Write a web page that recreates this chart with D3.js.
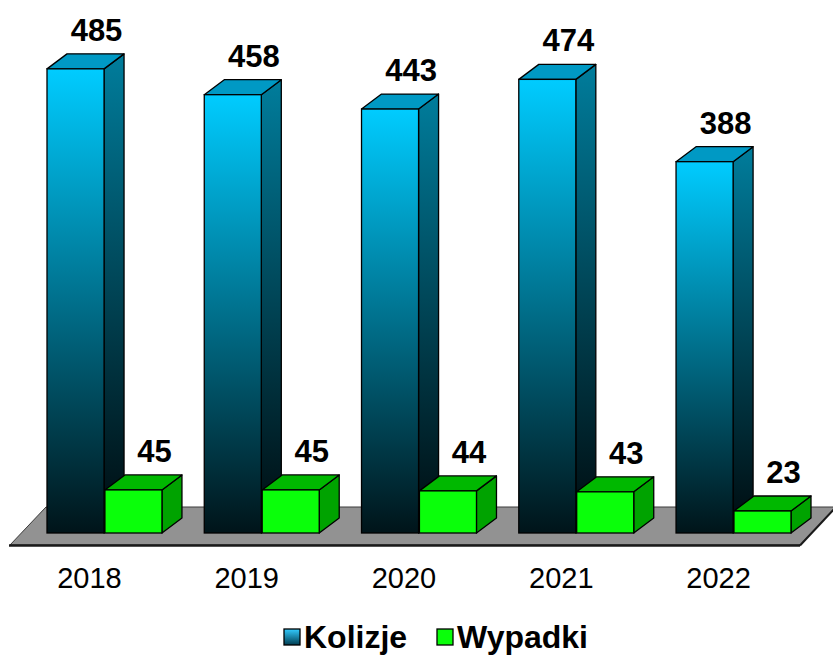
<!DOCTYPE html>
<html>
<head>
<meta charset="utf-8">
<script src="https://cdn.jsdelivr.net/npm/d3@7"></script>
<style>
  body { margin: 0; background: #fff; }
  svg { display: block; font-family: Arial, "Liberation Sans", sans-serif; }
</style>
</head>
<body>
<svg class="s"></svg>
<script>
var years = ['2018', '2019', '2020', '2021', '2022'];
var series = ['Kolizje', 'Wypadki'];
var kolizje = [485, 458, 443, 474, 388];
var wypadki = [45, 45, 44, 43, 23];

var w = 833;
var h = 656;
var depthX = 20, depthY = 15;

var svg = d3.select('.s')
            .attr('width', w)
            .attr('height', h);

var defs = svg.append('defs');

function grad(id, top, bottom) {
  var g = defs.append('linearGradient')
              .attr('id', id)
              .attr('x1', 0).attr('y1', 0)
              .attr('x2', 0).attr('y2', 1);
  g.append('stop').attr('offset', '0%').attr('stop-color', top);
  g.append('stop').attr('offset', '100%').attr('stop-color', bottom);
}
grad('blueFront', '#00ccff', '#001419');
grad('blueSide', '#007d9c', '#000a0d');
grad('legendBlue', '#33ccff', '#003c50');

var x0 = d3.scaleBand()
           .domain(years)
           .range([47, 791])
           .paddingInner(0.269);

var x1 = d3.scaleBand()
           .domain(series)
           .range([0, x0.bandwidth()])
           .paddingInner(0.015);

var y = d3.scaleLinear()
          .domain([0, 500])
          .range([533, 54.5]);

// floor
var floorFront = 545, floorBack = 507;
svg.append('polygon')
   .attr('points', [[10, floorFront], [800, floorFront], [836, floorBack], [46, floorBack]].join(' '))
   .attr('fill', '#929292')
   .attr('stroke', '#3a3a3a')
   .attr('stroke-width', 1);
svg.append('line')
   .attr('x1', 9).attr('y1', floorFront + 0.5)
   .attr('x2', 800).attr('y2', floorFront + 0.5)
   .attr('stroke', '#1a1a1a').attr('stroke-width', 2.5);
svg.append('line')
   .attr('x1', 800).attr('y1', floorFront + 0.5)
   .attr('x2', 836).attr('y2', floorBack)
   .attr('stroke', '#1a1a1a').attr('stroke-width', 2);

var styles = {
  Kolizje: { front: 'url(#blueFront)', side: 'url(#blueSide)', top: '#0099c4' },
  Wypadki: { front: '#0aff0a', side: '#00a300', top: '#00b800' }
};

var data = [];
years.forEach(function(yr, i) {
  data.push({ year: yr, key: 'Kolizje', value: kolizje[i] });
  data.push({ year: yr, key: 'Wypadki', value: wypadki[i] });
});

var bars = svg.append('g')
              .selectAll('g')
              .data(data)
              .enter()
              .append('g');

bars.each(function(d) {
  var g = d3.select(this);
  var xl = x0(d.year) + x1(d.key);
  var xr = xl + x1.bandwidth();
  var yt = y(d.value);
  var yb = y(0);
  var st = styles[d.key];

  g.append('polygon')
   .attr('points', [[xr, yt], [xr + depthX, yt - depthY], [xr + depthX, yb - depthY], [xr, yb]].join(' '))
   .attr('fill', st.side)
   .attr('stroke', '#000').attr('stroke-width', 1.3).attr('stroke-linejoin', 'round');
  g.append('polygon')
   .attr('points', [[xl, yt], [xl + depthX, yt - depthY], [xr + depthX, yt - depthY], [xr, yt]].join(' '))
   .attr('fill', st.top)
   .attr('stroke', '#000').attr('stroke-width', 1.3).attr('stroke-linejoin', 'round');
  g.append('rect')
   .attr('x', xl).attr('y', yt)
   .attr('width', xr - xl).attr('height', yb - yt)
   .attr('fill', st.front)
   .attr('stroke', '#000').attr('stroke-width', 1.3);

  g.append('text')
   .attr('x', (xl + xr) / 2 + depthX + 1)
   .attr('y', yt - depthY - 13)
   .attr('text-anchor', 'middle')
   .attr('font-size', 31)
   .attr('font-weight', 'bold')
   .attr('fill', '#000')
   .text(d.value);
});

// category labels
svg.append('g')
   .selectAll('text')
   .data(years)
   .enter()
   .append('text')
   .attr('x', function(d) { return x0(d) + x0.bandwidth() / 2 - 15; })
   .attr('y', 588)
   .attr('text-anchor', 'middle')
   .attr('font-size', 29)
   .attr('fill', '#000')
   .text(function(d) { return d; });

// legend
var legendX = [284, 437];
var legendFill = ['url(#legendBlue)', '#0aff0a'];
var legend = svg.append('g')
                .selectAll('g')
                .data(series)
                .enter()
                .append('g')
                .attr('transform', function(d, i) { return 'translate(' + legendX[i] + ',629)'; });
legend.append('rect')
      .attr('width', 16).attr('height', 16)
      .attr('fill', function(d, i) { return legendFill[i]; })
      .attr('stroke', '#000').attr('stroke-width', 1.3);
legend.append('text')
      .attr('x', 20).attr('y', 19)
      .attr('font-size', 32)
      .attr('font-weight', 'bold')
      .attr('fill', '#000')
      .text(function(d) { return d; });
</script>
</body>
</html>
